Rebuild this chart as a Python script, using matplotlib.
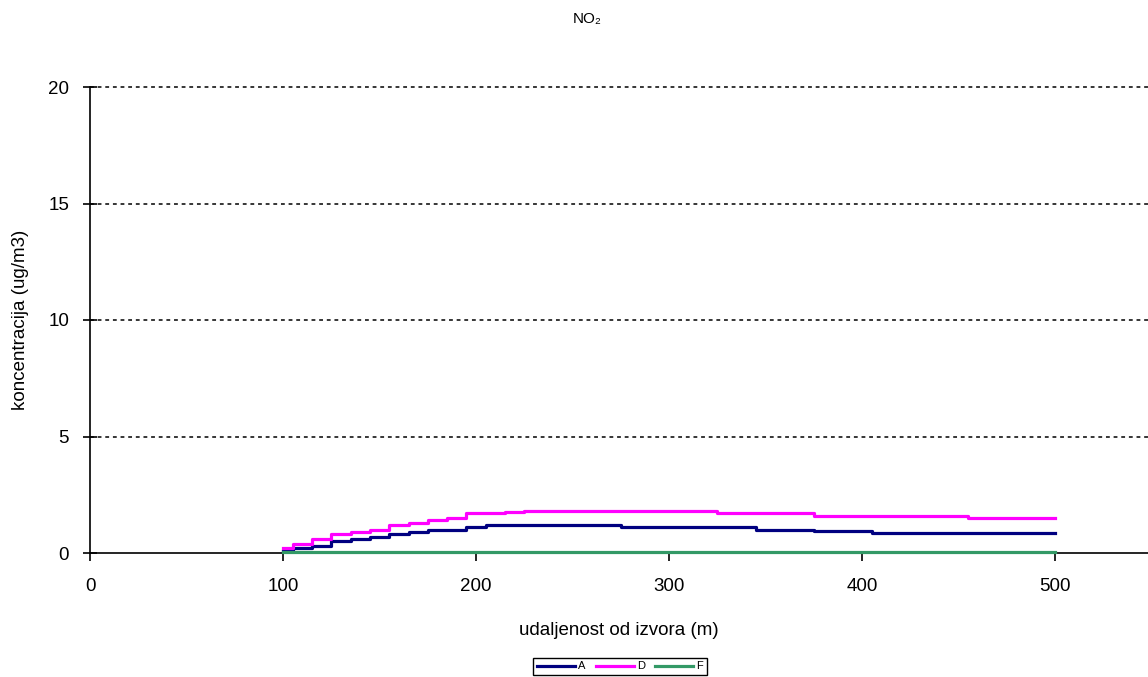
import matplotlib
matplotlib.use("Agg")
import matplotlib.pyplot as plt

plt.rcParams["font.family"] = ["Liberation Sans", "DejaVu Sans"]

# distance from source (m)
distance = [100, 110, 120, 130, 140, 150, 160, 170, 180, 190,
            200, 210, 220, 230, 240, 250, 260, 270, 280, 290,
            300, 310, 320, 330, 340, 350, 360, 370, 380, 390,
            400, 410, 420, 430, 440, 450, 460, 470, 480, 490, 500]

# concentration (ug/m3) per stability class
conc_A = [0.1, 0.2, 0.3, 0.5, 0.6, 0.7, 0.8, 0.9, 1.0, 1.0,
          1.1, 1.2, 1.2, 1.2, 1.2, 1.2, 1.2, 1.2, 1.1, 1.1,
          1.1, 1.1, 1.1, 1.1, 1.1, 1.0, 1.0, 1.0, 0.95, 0.95,
          0.95, 0.86, 0.86, 0.86, 0.86, 0.86, 0.86, 0.86, 0.86, 0.86, 0.86]
conc_D = [0.2, 0.4, 0.6, 0.8, 0.9, 1.0, 1.2, 1.3, 1.4, 1.5,
          1.7, 1.7, 1.75, 1.8, 1.8, 1.8, 1.8, 1.8, 1.8, 1.8,
          1.8, 1.8, 1.8, 1.7, 1.7, 1.7, 1.7, 1.7, 1.6, 1.6,
          1.6, 1.6, 1.6, 1.6, 1.6, 1.6, 1.5, 1.5, 1.5, 1.5, 1.5]
conc_F = [0.05] * len(distance)

series = [("A", conc_A, "#000080"), ("D", conc_D, "#FF00FF"), ("F", conc_F, "#339966")]

fig = plt.figure(figsize=(11.48, 6.77), dpi=100)
ax = fig.add_axes([90 / 1148, 1 - 553 / 677, 1 - 90 / 1148, (553 - 87) / 677])

for name, vals, color in series:
    ax.plot(distance, vals, color=color, linewidth=2.3, drawstyle="steps-mid",
            label=name, zorder=3, clip_on=False)

ax.set_xlim(0, 548)
ax.set_ylim(0, 20)
ax.set_xticks([0, 100, 200, 300, 400, 500])
ax.set_yticks([0, 5, 10, 15, 20])

# dashed horizontal gridlines
for y in [5, 10, 15, 20]:
    ax.axhline(y, color="black", linewidth=1.1, linestyle=(0, (2.5, 2.5)),
               zorder=0, clip_on=False)

for s in ["top", "right"]:
    ax.spines[s].set_visible(False)
for s in ["left", "bottom"]:
    ax.spines[s].set_linewidth(1.2)

ax.tick_params(axis="y", direction="inout", length=10, width=1.2, labelsize=13.5, pad=10)
ax.tick_params(axis="x", direction="out", length=6, width=1.2, labelsize=13.5, pad=12)

ax.set_xlabel("udaljenost od izvora (m)", fontsize=13.5)
ax.xaxis.set_label_coords(0.5, -0.148)
ax.set_ylabel("koncentracija (ug/m3)", fontsize=13.5)
ax.yaxis.set_label_coords(-0.058, 0.5)
fig.text(587 / 1148, 1 - 19 / 677, "NO₂", ha="center", va="center", fontsize=11)

leg = fig.legend(loc="upper center", bbox_to_anchor=(620 / 1148, 1 - 652 / 677),
                 ncol=3, fontsize=8, handlelength=3.4, handletextpad=0.3,
                 columnspacing=0.9, fancybox=False, edgecolor="black",
                 borderpad=0.35, framealpha=1)
leg.get_frame().set_linewidth(1.0)

fig.savefig("out.png", dpi=100)
